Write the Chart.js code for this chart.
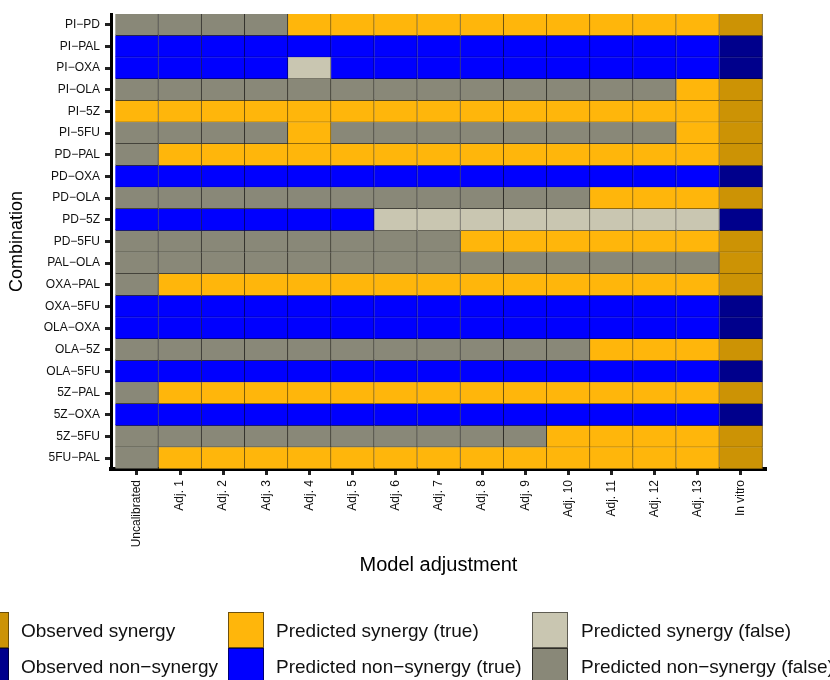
<!DOCTYPE html>
<html>
<head>
<meta charset="utf-8">
<script src="https://cdn.jsdelivr.net/npm/chart.js@4.4.1/dist/chart.umd.min.js"></script>
<style>
  html, body { margin: 0; padding: 0; background: #fff; }
  #wrap { position: relative; width: 830px; height: 680px; overflow: hidden; font-family: 'Liberation Sans', Arial, sans-serif; }
  #chart { position: absolute; left: 0; top: 0; }
  .swatch { position: absolute; width: 36px; height: 36px; box-sizing: border-box; border: 1px solid; }
  .label { position: absolute; font-size: 19px; line-height: 22px; color: #111; white-space: nowrap; }
</style>
</head>
<body>
<div id="wrap">
  <canvas id="chart" width="830" height="680"></canvas>
</div>
<script>
// Heatmap data
const combinations = [
  'PI−PD', 'PI−PAL', 'PI−OXA', 'PI−OLA', 'PI−5Z', 'PI−5FU', 'PD−PAL',
  'PD−OXA', 'PD−OLA', 'PD−5Z', 'PD−5FU', 'PAL−OLA', 'OXA−PAL', 'OXA−5FU',
  'OLA−OXA', 'OLA−5Z', 'OLA−5FU', '5Z−PAL', '5Z−OXA', '5Z−5FU', '5FU−PAL'
];
const adjustments = [
  'Uncalibrated', 'Adj. 1', 'Adj. 2', 'Adj. 3', 'Adj. 4', 'Adj. 5', 'Adj. 6', 'Adj. 7',
  'Adj. 8', 'Adj. 9', 'Adj. 10', 'Adj. 11', 'Adj. 12', 'Adj. 13', 'In vitro'
];
// one letter per adjustment column:
// T = predicted synergy (true), N = predicted non-synergy (true),
// F = predicted synergy (false), G = predicted non-synergy (false),
// S = observed synergy, X = observed non-synergy
const outcomes = [
  'GGGGTTTTTTTTTTS',
  'NNNNNNNNNNNNNNX',
  'NNNNFNNNNNNNNNX',
  'GGGGGGGGGGGGGTS',
  'TTTTTTTTTTTTTTS',
  'GGGGTGGGGGGGGTS',
  'GTTTTTTTTTTTTTS',
  'NNNNNNNNNNNNNNX',
  'GGGGGGGGGGGTTTS',
  'NNNNNNFFFFFFFFX',
  'GGGGGGGGTTTTTTS',
  'GGGGGGGGGGGGGGS',
  'GTTTTTTTTTTTTTS',
  'NNNNNNNNNNNNNNX',
  'NNNNNNNNNNNNNNX',
  'GGGGGGGGGGGTTTS',
  'NNNNNNNNNNNNNNX',
  'GTTTTTTTTTTTTTS',
  'NNNNNNNNNNNNNNX',
  'GGGGGGGGGGTTTTS',
  'GTTTTTTTTTTTTTS'
];
const outcomeNames = {
  S: 'Observed synergy',
  X: 'Observed non−synergy',
  T: 'Predicted synergy (true)',
  N: 'Predicted non−synergy (true)',
  F: 'Predicted synergy (false)',
  G: 'Predicted non−synergy (false)'
};

// Styles
const fillColors = {
  S: '#cc9305', X: '#00008c', T: '#ffb60b', N: '#0000ff', F: '#c9c6b1', G: '#898878'
};
const edgeColors = {
  S: '#6a4e08', X: '#000040', T: '#6e510e', N: '#000070', F: '#5e5c52', G: '#2e2d27'
};
const fontFamily = "'Liberation Sans', Arial, sans-serif";

Chart.defaults.font.family = fontFamily;

const datasets = adjustments.map((adj, col) => ({
  label: adj,
  data: combinations.map(() => 1),
  backgroundColor: outcomes.map(row => fillColors[row[col]]),
  borderColor: outcomes.map(row => edgeColors[row[col]]),
  borderWidth: { top: 0, left: 0, right: 1, bottom: 1 },
  borderSkipped: false,
  barPercentage: 1,
  categoryPercentage: 1
}));

new Chart(document.getElementById('chart'), {
  type: 'bar',
  data: { labels: combinations, datasets },
  options: {
    indexAxis: 'y',
    responsive: false,
    animation: false,
    layout: { padding: { left: 0, right: 64, top: 14, bottom: 98 } },
    plugins: { legend: { display: false }, tooltip: { enabled: false } },
    scales: {
      x: {
        type: 'linear',
        stacked: true,
        min: -0.1,
        max: 15.08,
        afterBuildTicks: s => { s.ticks = adjustments.map((_, i) => ({ value: i + 0.5 })); },
        afterFit: s => { s.height = 113; },
        ticks: {
          autoSkip: false,
          minRotation: 90,
          maxRotation: 90,
          padding: 5,
          color: '#111',
          font: { size: 12 },
          callback: (v, i) => adjustments[i]
        },
        grid: { drawOnChartArea: false, tickLength: 6, tickWidth: 3, tickColor: '#222' },
        border: { display: true, color: '#000', width: 4 },
        title: {
          display: true,
          text: 'Model adjustment',
          color: '#000',
          font: { size: 20 },
          padding: { top: 0, bottom: 5 }
        }
      },
      y: {
        type: 'category',
        stacked: true,
        offset: true,
        afterFit: s => { s.width = 111; },
        ticks: { padding: 5, color: '#111', font: { size: 12 } },
        grid: { offset: false, drawOnChartArea: false, tickLength: 6, tickWidth: 3, tickColor: '#222' },
        border: { display: true, color: '#000', width: 3 },
        title: {
          display: true,
          text: 'Combination',
          color: '#000',
          font: { size: 18 },
          padding: { top: 6, bottom: 0 }
        }
      }
    }
  }
});

// Legend (3 columns x 2 rows, swatches stacked)
const legendColumns = [['S', 'X'], ['T', 'N'], ['F', 'G']];
const swatchLeft = [-27, 228, 532];
const textLeft = [21, 276, 581];
const wrap = document.getElementById('wrap');
legendColumns.forEach((keys, c) => {
  keys.forEach((key, r) => {
    const sw = document.createElement('div');
    sw.className = 'swatch';
    sw.style.left = swatchLeft[c] + 'px';
    sw.style.top = (612 + r * 36) + 'px';
    sw.style.background = fillColors[key];
    sw.style.borderColor = edgeColors[key];
    wrap.appendChild(sw);

    const lb = document.createElement('div');
    lb.className = 'label';
    lb.style.left = textLeft[c] + 'px';
    lb.style.top = (620 + r * 36) + 'px';
    lb.textContent = outcomeNames[key];
    wrap.appendChild(lb);
  });
});
</script>
</body>
</html>
